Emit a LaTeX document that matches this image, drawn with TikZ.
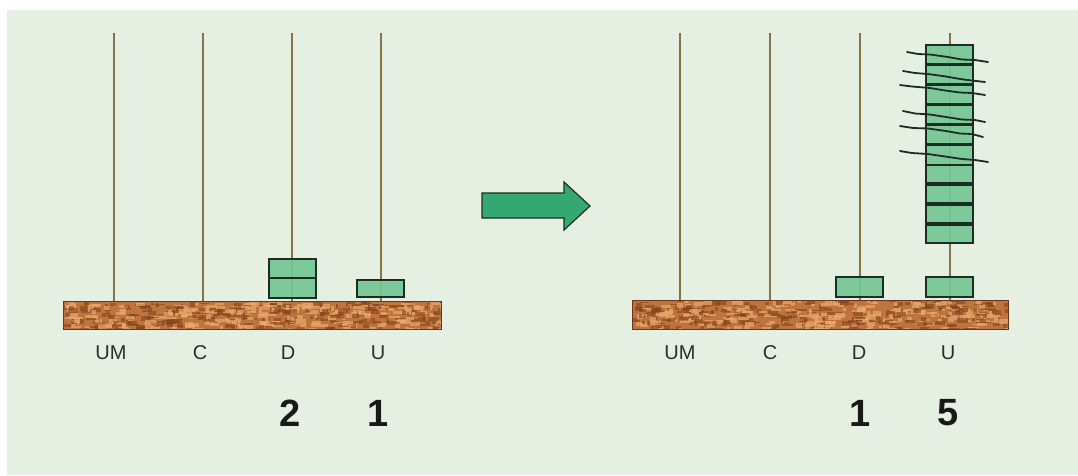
\documentclass[tikz,border=0pt]{standalone}
\usepackage{fontspec}
\setmainfont{Liberation Sans}
\begin{document}
\definecolor{panelbg}{RGB}{230,240,226}
\definecolor{rodcol}{RGB}{135,115,75}
\definecolor{beadfill}{RGB}{118,198,148}
\definecolor{beadline}{RGB}{28,45,35}
\definecolor{arrowfill}{RGB}{52,168,112}
\definecolor{cork}{RGB}{190,116,60}
\definecolor{corkdark}{RGB}{130,68,30}
\definecolor{corklight}{RGB}{232,170,110}
\definecolor{labelcol}{RGB}{45,45,45}
\begin{tikzpicture}[x=1pt,y=-1pt,
  rod/.style={draw=rodcol,line width=1.4pt},
  bead/.style={draw=beadline,fill=beadfill,fill opacity=0.92,line width=1.7pt},
  corkedge/.style={draw=corkdark!80!black,line width=0.8pt},
  colname/.style={font=\fontsize{20}{20}\selectfont,text=labelcol,inner sep=0pt},
  digit/.style={font=\fontsize{38}{38}\selectfont\bfseries,text=black!90,inner sep=0pt},
  strike/.style={draw=beadline,line width=1.8pt,line join=round,line cap=round},
  bigarrow/.style={draw=beadline,fill=arrowfill,line width=1.2pt,line join=miter}]

% page and light green panel
\fill[white] (0,0) rectangle (1078,475);
\fill[panelbg] (7,10) rectangle (1078,475);
\useasboundingbox (0,0) rectangle (1078,475);

\pgfmathsetseed{7}
% cork base board: #1 left, #2 right, #3 top, #4 bottom
\newcommand\corkboard[4]{%
  \fill[cork] (#1,#3) rectangle (#2,#4);
  \begin{scope}
    \clip (#1,#3) rectangle (#2,#4);
    \foreach \k in {1,...,520}{%
      \pgfmathsetmacro\px{#1+rnd*(#2-#1)}%
      \pgfmathsetmacro\py{#3+rnd*(#4-#3)}%
      \pgfmathsetmacro\pw{2+rnd*9}%
      \pgfmathsetmacro\ph{1+rnd*4}%
      \pgfmathsetmacro\pc{rnd}%
      \ifdim\pc pt<0.5pt
        \fill[corkdark,opacity=0.6] (\px,\py) rectangle ++(\pw,\ph);
      \else
        \fill[corklight,opacity=0.7] (\px,\py) rectangle ++(\pw,\ph);
      \fi
    }
  \end{scope}
  \draw[corkedge] (#1,#3) rectangle (#2,#4);
}

%%% ---------- left abacus: 21 ----------
\foreach \x [count=\i] in {114,203,292,381}{
  \coordinate (lt\i) at (\x,33);
  \coordinate (lb\i) at (\x,301);
  \draw[rod] (lt\i) -- (lb\i);
}
\corkboard{63}{441}{301}{329}
\draw[bead] (269,259) rectangle (316,278);
\draw[bead] (269,278) rectangle (316,298);
\draw[line width=2.4pt,beadline] (269,278) -- (316,278);
\draw[bead] (357,280) rectangle (404,297);

\node[colname] (lUM) at (111,353) {UM};
\node[colname] (lC)  at (200,353) {C};
\node[colname] (lD)  at (288,353) {D};
\node[colname] (lU)  at (378,353) {U};
\node[digit] (l2) at (290,413) {2};
\node[digit] (l1) at (378,413) {1};

%%% ---------- arrow ----------
\draw[bigarrow] (482,193) -- (564,193) -- (564,182) -- (590,206)
  -- (564,230) -- (564,218) -- (482,218) -- cycle;

%%% ---------- right abacus: 15 ----------
\foreach \x [count=\i] in {680,770,860,950}{
  \coordinate (rt\i) at (\x,33);
  \coordinate (rb\i) at (\x,301);
  \draw[rod] (rt\i) -- (rb\i);
}
\corkboard{632}{1008}{300}{329}
\draw[bead] (836,277) rectangle (883,297);
\draw[bead] (926,277) rectangle (973,297);
% ten beads on the units rod
\foreach \j in {0,...,5}{
  \draw[bead] (926,{45+\j*19.9}) rectangle (973,{45+(\j+1)*19.9});
}
\foreach \j in {1,...,5}{
  \draw[beadline,line width=3pt] (926,{45+\j*19.9}) -- (973,{45+\j*19.9});
}
\foreach \j in {6,...,9}{
  \draw[bead] (926,{46+\j*19.9}) rectangle (973,{44+(\j+1)*19.9});
}
% crossing-out strokes
\draw[strike] (907,52) -- (918,54) -- (930,54.5) -- (948,57) -- (962,59.5) -- (975,60) -- (988,62);
\draw[strike] (903,71) -- (915,73) -- (928,74) -- (946,76.5) -- (960,79) -- (972,80.5) -- (985,82);
\draw[strike] (900,85) -- (912,86.5) -- (930,88) -- (945,90.5) -- (960,92.5) -- (972,93) -- (985,95);
\draw[strike] (903,111) -- (915,113.5) -- (930,114.5) -- (946,117) -- (962,119.5) -- (975,120) -- (985,122);
\draw[strike] (900,126) -- (913,128) -- (928,128.5) -- (946,131) -- (960,133.5) -- (972,134) -- (983,137);
\draw[strike] (900,151) -- (912,153) -- (928,154) -- (945,156.5) -- (962,159) -- (975,160) -- (988,162);

\node[colname] (rUM) at (680,353) {UM};
\node[colname] (rC)  at (770,353) {C};
\node[colname] (rD)  at (859,353) {D};
\node[colname] (rU)  at (948,353) {U};
\node[digit] (r1) at (860,413) {1};
\node[digit] (r5) at (948,413) {5};
\end{tikzpicture}
\end{document}
